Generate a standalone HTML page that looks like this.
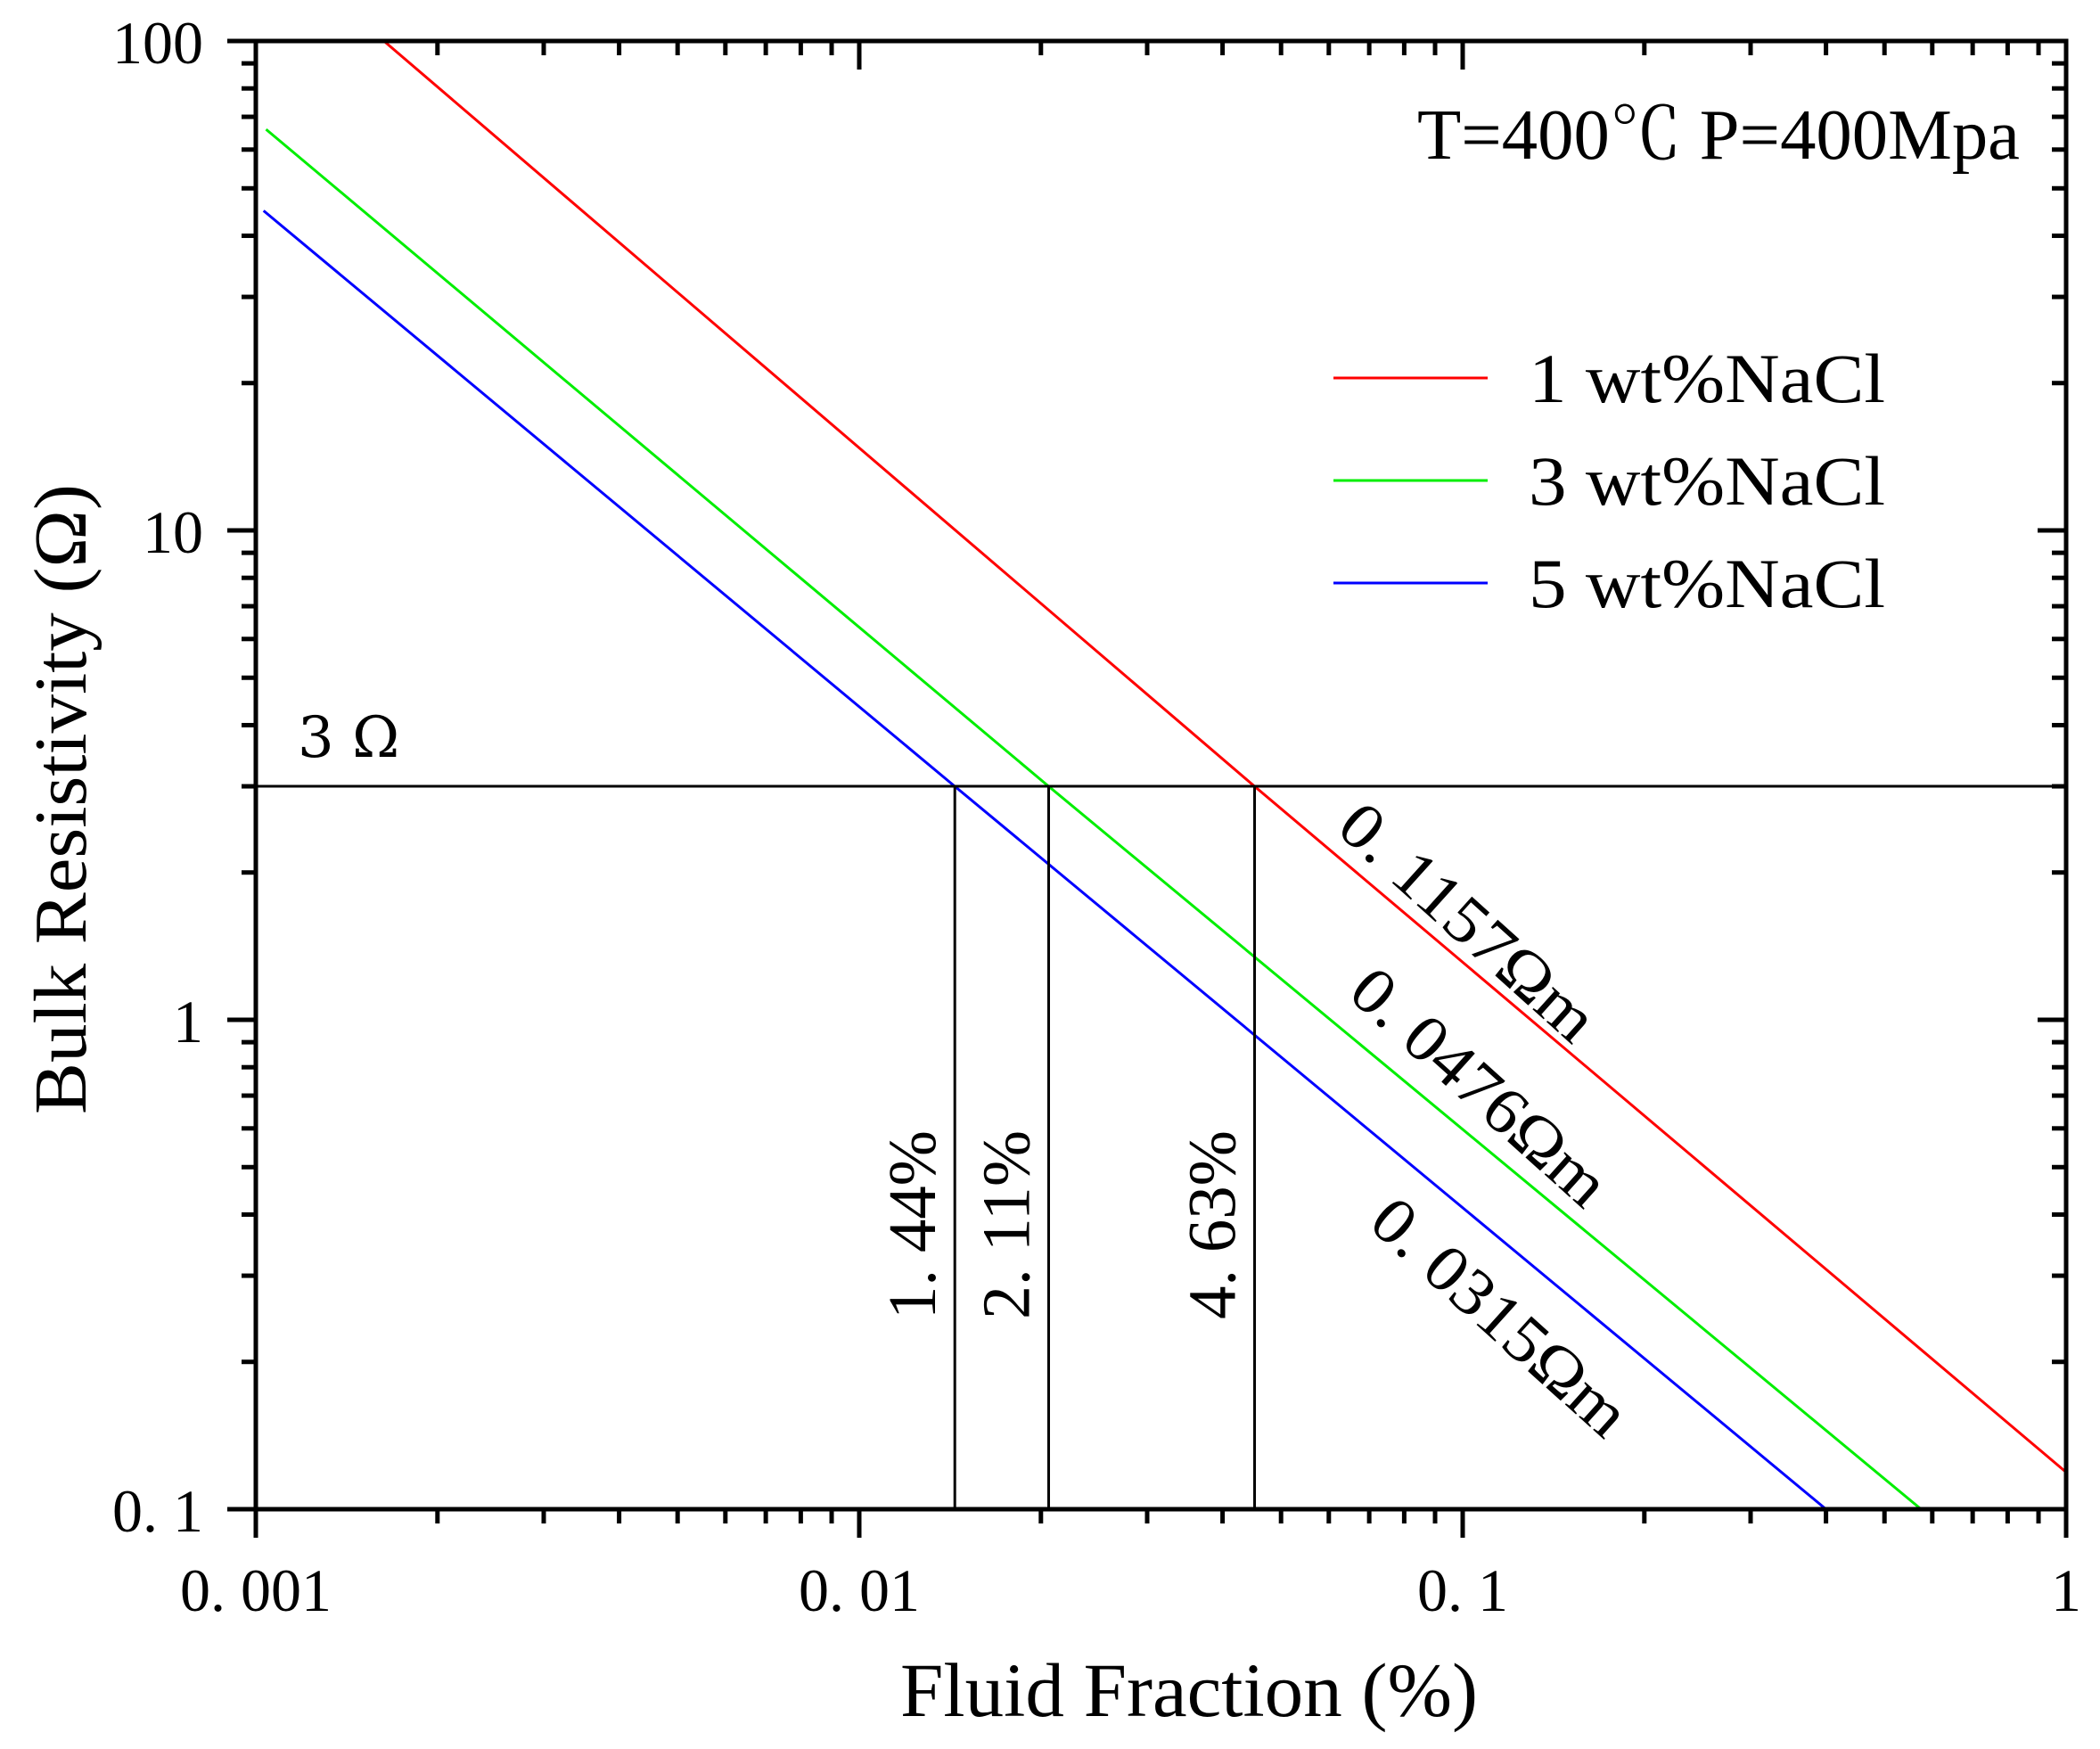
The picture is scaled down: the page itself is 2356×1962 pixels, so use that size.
<!DOCTYPE html>
<html><head><meta charset="utf-8"><style>
html,body{margin:0;padding:0;background:#fff;}
svg{display:block;}
text{font-family:"Liberation Serif","Noto Serif CJK SC",serif;fill:#000;}
</style></head><body>
<svg id="chart" width="2356" height="1962" viewBox="0 0 2356 1962" xmlns="http://www.w3.org/2000/svg">
<rect x="0" y="0" width="2356" height="1962" fill="#fff"/>
<g id="marks"></g>
<g id="axes"></g>
<g id="labels"></g>
</svg>
<script>
// ---- data ----
const xTickValues = [0.001, 0.01, 0.1, 1];
const xTickLabels = ["0. 001", "0. 01", "0. 1", "1"];
const yTickValues = [0.1, 1, 10, 100];
const yTickLabels = ["0. 1", "1", "10", "100"];
const seriesNames = ["1 wt%NaCl", "3 wt%NaCl", "5 wt%NaCl"];
const seriesColors = ["#ff0000", "#00ee00", "#0000ff"];
const redX = [0.00163, 0.0452, 1];
const redY = [100, 3, 0.119];
const greenX = [0.00104, 0.0206, 0.575];
const greenY = [66, 3, 0.1];
const blueX = [0.00103, 0.0144, 0.40];
const blueY = [45, 3, 0.1];
const thresholdY = 3;
const crossX = [0.0144, 0.0206, 0.0452];
const crossLabels = ["1. 44%", "2. 11%", "4. 63%"];
const slopeLabels = ["0. 1157Ωm", "0. 0476Ωm", "0. 0315Ωm"];

// ---- axes functions ----
const L = 287, R = 2318, T = 46, B = 1693;
const X = v => L + (Math.log10(v) + 3) / 3 * (R - L);
const Y = v => T + (2 - Math.log10(v)) / 3 * (B - T);
const NS = "http://www.w3.org/2000/svg";
function mk(tag, attrs, parent, txt) {
  const e = document.createElementNS(NS, tag);
  for (const k in attrs) e.setAttribute(k, attrs[k]);
  if (txt !== undefined) e.textContent = txt;
  parent.appendChild(e);
  return e;
}
const marks = document.getElementById('marks');
const axes = document.getElementById('axes');
const labels = document.getElementById('labels');

const seriesX = [redX, greenX, blueX];
const seriesY = [redY, greenY, blueY];
const seriesKeys = ["red-1wt", "green-3wt", "blue-5wt"];
for (let s = 0; s < 3; s++) {
  const pts = seriesX[s].map((v, i) => X(v).toFixed(1) + "," + Y(seriesY[s][i]).toFixed(1)).join(" ");
  const pl = mk('polyline', {points: pts, fill: 'none', stroke: seriesColors[s], 'stroke-width': 3}, marks);
  
  
}
const th = mk('line', {x1: L, x2: R, y1: Y(thresholdY), y2: Y(thresholdY), stroke: '#000', 'stroke-width': 3}, marks);


for (let i = 0; i < crossX.length; i++) {
  const vl = mk('line', {x1: X(crossX[i]), x2: X(crossX[i]), y1: Y(thresholdY), y2: B, stroke: '#000', 'stroke-width': 3}, marks);
  
  
  const tx = mk('text', {x: 0, y: 0, 'font-size': 76, textLength: 212, lengthAdjust: 'spacingAndGlyphs', transform: 'translate(' + (X(crossX[i]) - 22) + ',1480) rotate(-90)'}, labels, crossLabels[i]);
  
  
}

const frame = mk('rect', {x: L, y: T, width: R - L, height: B - T, fill: 'none', stroke: '#000', 'stroke-width': 5}, axes);



for (let d = -3; d < 0; d++) {
  for (let m = 1; m <= 9; m++) {
    const v = m * Math.pow(10, d);
    const len = m === 1 ? 32 : 16;
    const x = X(v);
    if (m > 1 || d > -3) {
      const t1 = mk('line', {x1: x, x2: x, y1: B, y2: B + len, stroke: '#000', 'stroke-width': 5}, axes);
      
      
      const t2 = mk('line', {x1: x, x2: x, y1: T, y2: T + len, stroke: '#000', 'stroke-width': 5}, axes);
      
      
    }
  }
}
for (let d = -1; d < 2; d++) {
  for (let m = 1; m <= 9; m++) {
    const v = m * Math.pow(10, d);
    const len = m === 1 ? 32 : 16;
    const y = Y(v);
    if (m > 1 || d > -1) {
      const t1 = mk('line', {x1: L - len, x2: L, y1: y, y2: y, stroke: '#000', 'stroke-width': 5}, axes);
      
      
      const t2 = mk('line', {x1: R - len, x2: R, y1: y, y2: y, stroke: '#000', 'stroke-width': 5}, axes);
      
      
    }
  }
}
[[L, B, L, B + 32], [R, B, R, B + 32], [L - 32, T, L, T], [L - 32, B, L, B]].forEach(c => {
  const t = mk('line', {x1: c[0], y1: c[1], x2: c[2], y2: c[3], stroke: '#000', 'stroke-width': 5}, axes);
  
  
});

for (let i = 0; i < xTickValues.length; i++) {
  const t = mk('text', {x: X(xTickValues[i]), y: 1807, 'font-size': 68, 'text-anchor': 'middle'}, labels, xTickLabels[i]);
  
  
}
for (let i = 0; i < yTickValues.length; i++) {
  const t = mk('text', {x: 228, y: Y(yTickValues[i]) + 25, 'font-size': 68, 'text-anchor': 'end'}, labels, yTickLabels[i]);
  
  
}

for (let s = 0; s < 3; s++) {
  const y = 424 + s * 115;
  const ll = mk('line', {x1: 1496, x2: 1669, y1: y, y2: y, stroke: seriesColors[s], 'stroke-width': 3}, labels);
  
  
  const lt = mk('text', {x: 1715, y: y + 27, 'font-size': 78, textLength: 400, lengthAdjust: 'spacingAndGlyphs'}, labels, seriesNames[s].replace(' ', '  '));
  
  
}

const slopePos = [[1497, 932], [1510, 1117], [1533, 1375]];
for (let i = 0; i < 3; i++) {
  const t = mk('text', {x: 0, y: 0, 'font-size': 74, textLength: 360, lengthAdjust: 'spacingAndGlyphs', transform: 'translate(' + slopePos[i][0] + ',' + slopePos[i][1] + ') rotate(42)'}, labels, slopeLabels[i]);
  
  
}
</script>
<svg style="position:absolute;left:0;top:0" width="2356" height="1962" viewBox="0 0 2356 1962" xmlns="http://www.w3.org/2000/svg">
<text x="1590" y="178" font-size="80" textLength="676" lengthAdjust="spacingAndGlyphs">T=400℃  P=400Mpa</text>
<text x="334" y="849" font-size="64" style="font-family:'DejaVu Serif','Liberation Serif',serif">3 Ω</text>
<text x="1010" y="1925" font-size="86" textLength="648" lengthAdjust="spacingAndGlyphs">Fluid Fraction (%)</text>
<text transform="translate(96,1250) rotate(-90)" x="0" y="0" font-size="84" textLength="707" lengthAdjust="spacingAndGlyphs">Bulk Resistivity (Ω)</text>
</svg>
</body></html>
